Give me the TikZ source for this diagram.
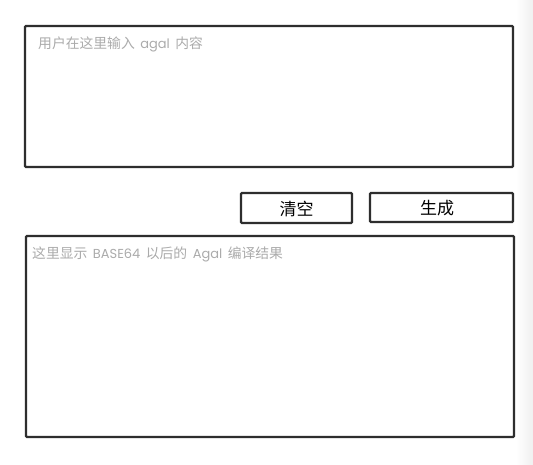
\documentclass[tikz,border=0pt]{standalone}
\usepackage{fontspec}
\setmainfont{Noto Sans CJK SC}
\newfontfamily\cjk{Noto Sans CJK SC}
\newfontfamily\lat{Poppins}
\newcommand\latw[1]{\hspace{5.5pt}{\lat\fontsize{13}{15}\selectfont #1}\hspace{5.5pt}}
\begin{document}
\begin{tikzpicture}[x=1pt,y=-1pt,
  box/.style={draw=black!82,line width=2.4pt,rounded corners=1pt,fill=white},
  hint/.style={text=black!33,font=\cjk\fontsize{13.8}{15}\selectfont,anchor=west,inner sep=0pt},
  btntext/.style={text=black,font=\cjk\fontsize{17}{19}\selectfont,inner sep=0pt}]
\useasboundingbox (0,0) rectangle (533,464);
\fill[white] (0,0) rectangle (533,464);
\shade[left color=white,right color=black!6] (516,0) rectangle (533,464);
\draw[box] (25,26) rectangle (513,167);
\node[hint] (t1) at (38,44) {用户在这里输入\latw{agal}内容};
\draw[box] (241,193) rectangle (352,223);
\node[btntext] (b1) at (296.5,209) {清空};
\draw[box] (370,193) rectangle (513,222);
\node[btntext] (b2) at (437,208.5) {生成};
\draw[box] (26,236) rectangle (514,437);
\node[hint] (t2) at (32,254) {这里显示\latw{BASE64}以后的\latw{Agal}编译结果};
\end{tikzpicture}
\end{document}
